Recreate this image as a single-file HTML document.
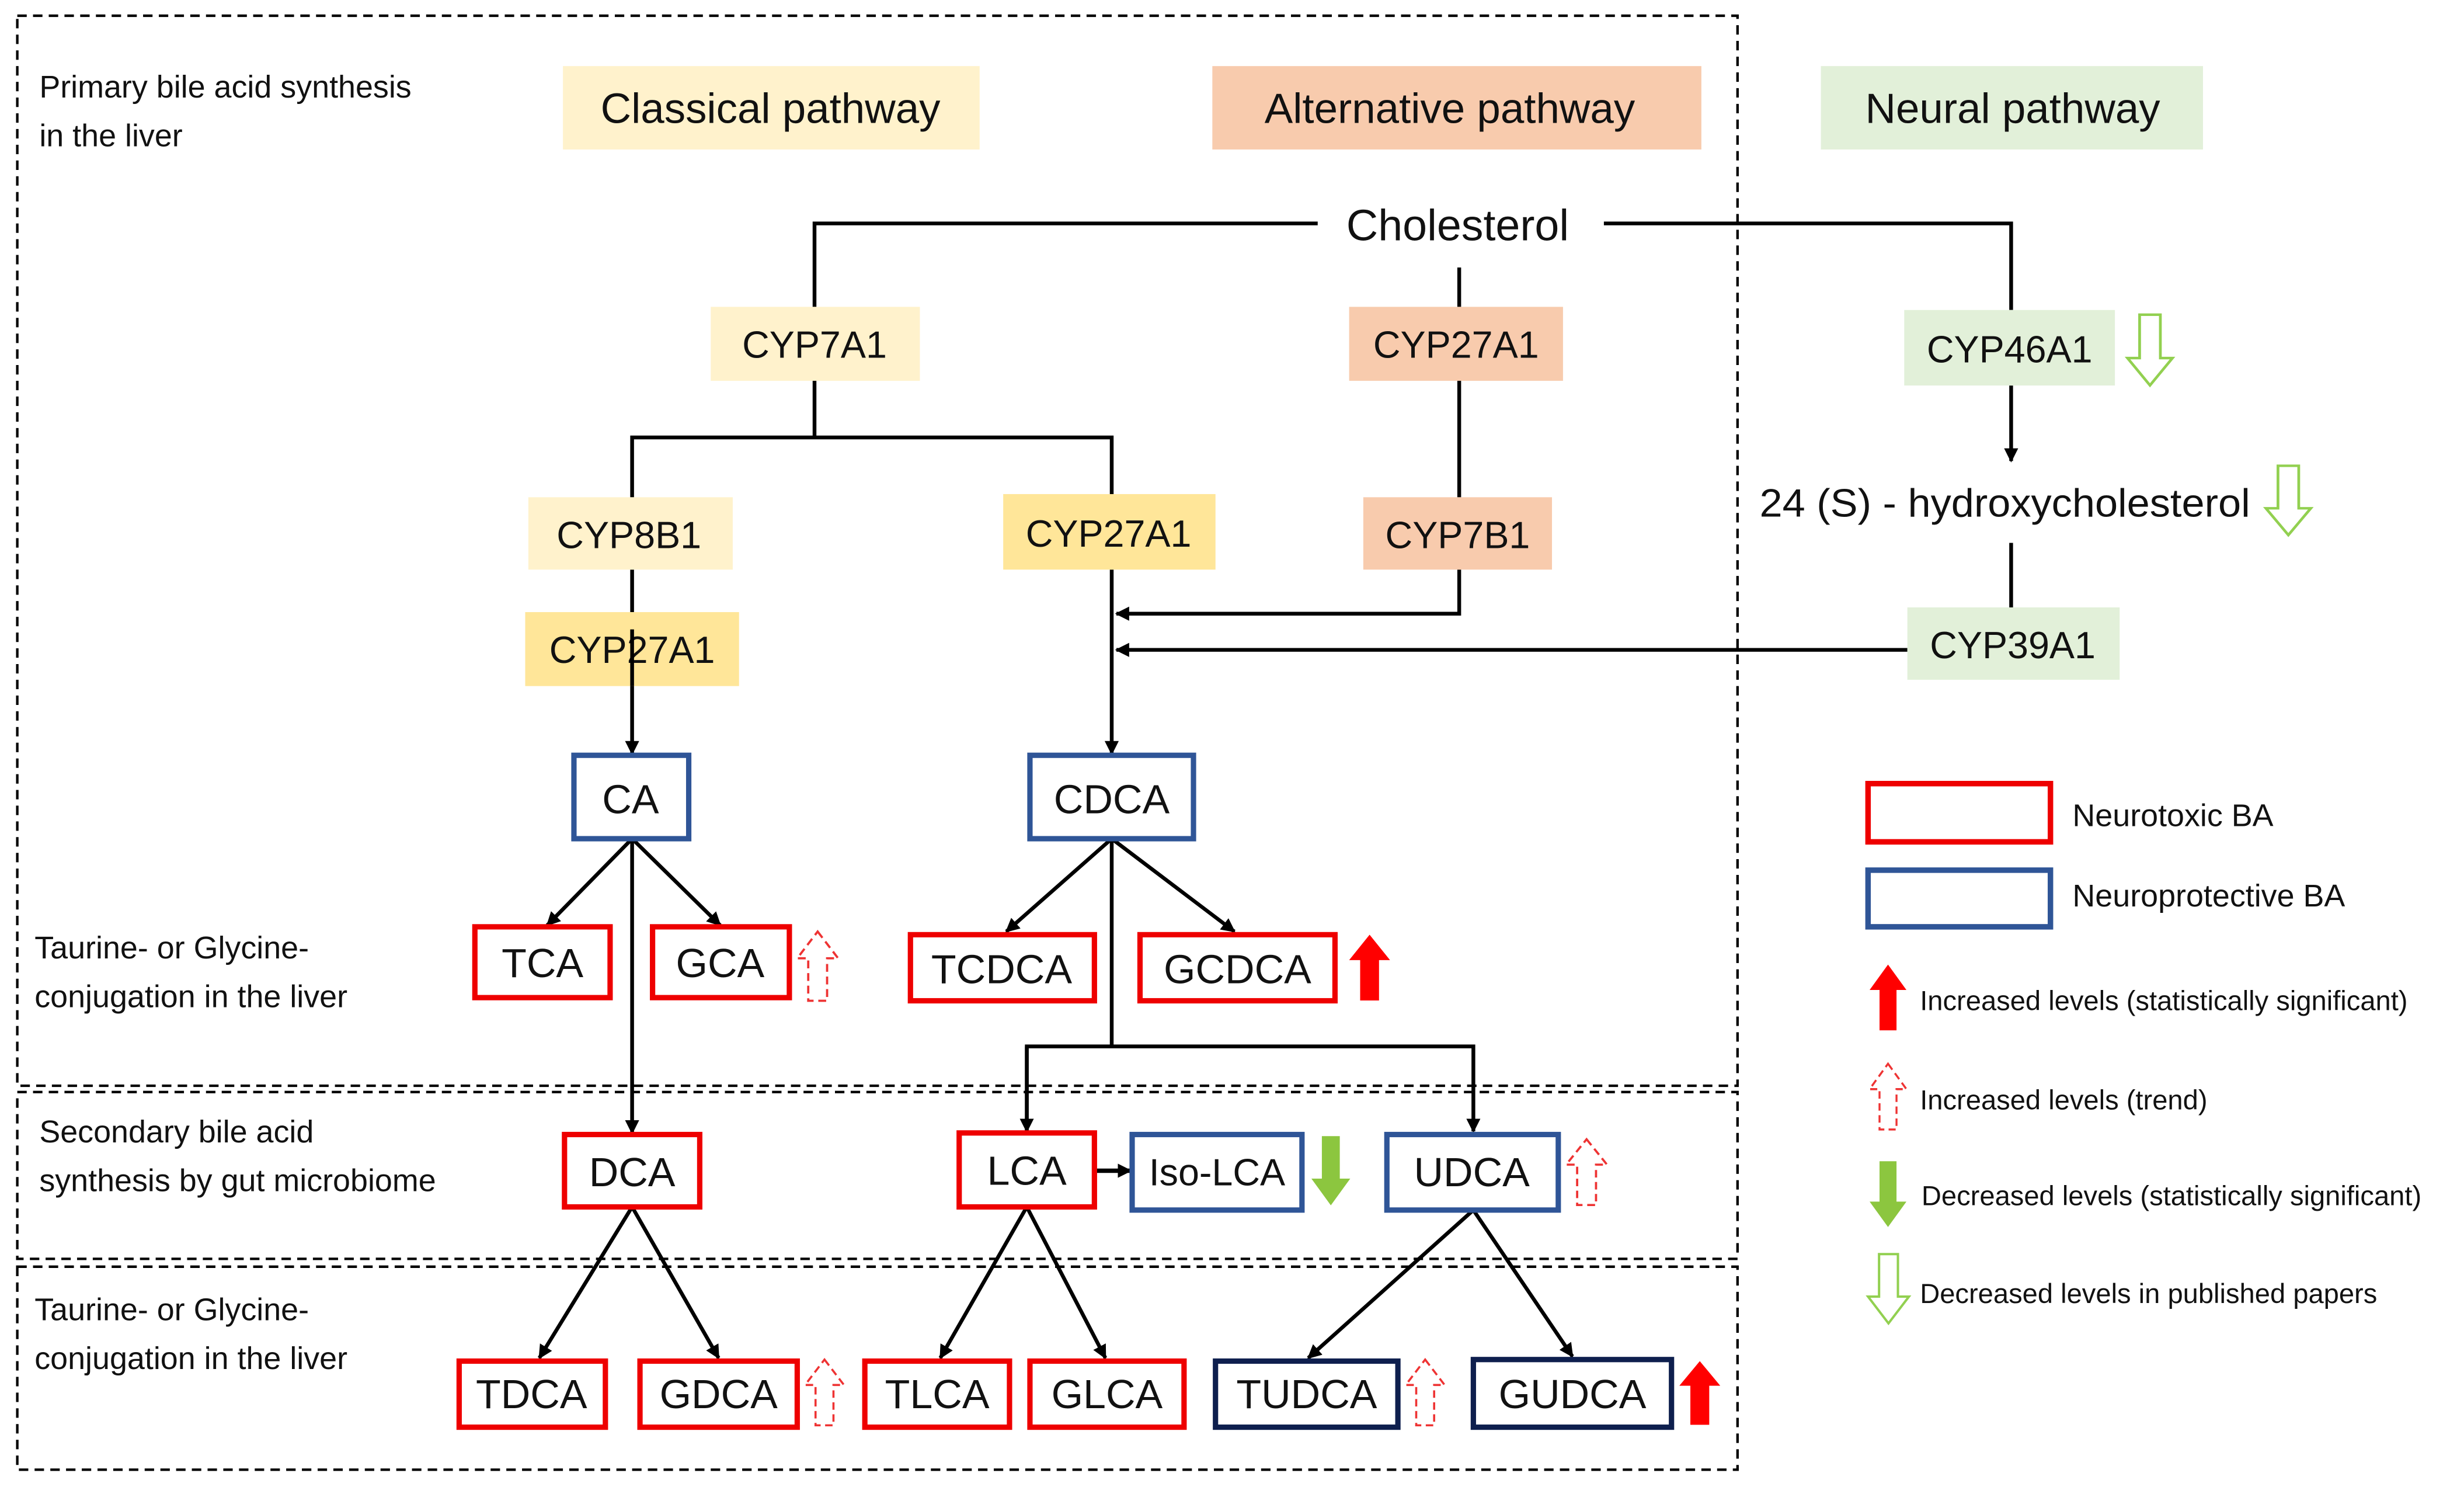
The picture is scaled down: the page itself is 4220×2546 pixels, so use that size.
<!DOCTYPE html>
<html><head><meta charset="utf-8"><style>
html,body{margin:0;padding:0;background:#fff}
svg{display:block}
text{font-family:"Liberation Sans",sans-serif;fill:#111}
.b{font-size:24px;text-anchor:middle;dominant-baseline:central}
.l{font-size:20px}
.lg{font-family:"Liberation Sans",sans-serif;font-size:17.5px}
</style></head><body>
<svg width="4220" height="2546" viewBox="0 0 1567 945" preserveAspectRatio="none" xmlns="http://www.w3.org/2000/svg">
<defs>
<marker id="ah2" viewBox="0 0 10 10" refX="9" refY="5" markerWidth="9" markerHeight="9" orient="auto" markerUnits="userSpaceOnUse"><path d="M0,0 L10,5 L0,10 z" fill="#000"/></marker>
<polygon id="up" points="13,0 26,17 19,17 19,44 7,44 7,17 0,17"/>
<polygon id="dn" points="7,0 19,0 19,27 26,27 13,44 0,27 7,27"/>
</defs>
<rect width="1567" height="945" fill="#fff"/>
<g fill="none" stroke="#000" stroke-width="1.6" stroke-dasharray="6,4">
<rect x="11" y="10" width="1094" height="680"/>
<rect x="11" y="694" width="1094" height="106"/>
<rect x="11" y="805" width="1094" height="129"/>
</g>
<rect x="358" y="42" width="265" height="53" fill="#FFF2CC"/>
<text x="490" y="69" class="b" style="font-size:27px">Classical pathway</text>
<rect x="771" y="42" width="311" height="53" fill="#F8CBAD"/>
<text x="922" y="69" class="b" style="font-size:27px">Alternative pathway</text>
<rect x="1158" y="42" width="243" height="53" fill="#E2F0D9"/>
<text x="1280" y="69" class="b" style="font-size:27px">Neural pathway</text>
<text x="25" y="62" class="l">Primary bile acid synthesis</text>
<text x="25" y="93" class="l">in the liver</text>
<text x="22" y="609" class="l">Taurine- or Glycine-</text>
<text x="22" y="640" class="l">conjugation in the liver</text>
<text x="25" y="726" class="l">Secondary bile acid</text>
<text x="25" y="757" class="l">synthesis by gut microbiome</text>
<text x="22" y="839" class="l">Taurine- or Glycine-</text>
<text x="22" y="870" class="l">conjugation in the liver</text>
<g stroke="#000" stroke-width="2.4" fill="none">
<polyline points="838,142 518,142 518,195"/>
<polyline points="1020,142 1279,142 1279,197"/>
<polyline points="518,242 518,278"/>
<polyline points="402,316 402,278 707,278 707,314"/>
<line x1="402" y1="362" x2="402" y2="389"/>
<line x1="402" y1="400" x2="402" y2="479" marker-end="url(#ah2)"/>
<line x1="707" y1="362" x2="707" y2="479" marker-end="url(#ah2)"/>
<line x1="928" y1="170" x2="928" y2="195"/>
<line x1="928" y1="242" x2="928" y2="316"/>
<polyline points="928,362 928,390 710,390" marker-end="url(#ah2)"/>
<line x1="1213" y1="413" x2="710" y2="413" marker-end="url(#ah2)"/>
<line x1="1279" y1="245" x2="1279" y2="293" marker-end="url(#ah2)"/>
<line x1="1279" y1="345" x2="1279" y2="386"/>
<line x1="402" y1="533" x2="348" y2="588" marker-end="url(#ah2)"/>
<line x1="402" y1="533" x2="458" y2="588" marker-end="url(#ah2)"/>
<line x1="402" y1="533" x2="402" y2="720" marker-end="url(#ah2)"/>
<line x1="707" y1="533" x2="640" y2="592" marker-end="url(#ah2)"/>
<line x1="707" y1="533" x2="785" y2="592" marker-end="url(#ah2)"/>
<line x1="707" y1="533" x2="707" y2="665"/>
<polyline points="653,719 653,665 937,665 937,719" marker-end="url(#ah2)"/>
<line x1="653" y1="665" x2="653" y2="719" marker-end="url(#ah2)"/>
<line x1="697" y1="744" x2="719" y2="744" marker-end="url(#ah2)" stroke-width="2.8"/>
<line x1="402" y1="767" x2="343" y2="863" marker-end="url(#ah2)"/>
<line x1="402" y1="767" x2="457" y2="863" marker-end="url(#ah2)"/>
<line x1="653" y1="767" x2="598" y2="863" marker-end="url(#ah2)"/>
<line x1="653" y1="767" x2="703" y2="863" marker-end="url(#ah2)"/>
<line x1="937" y1="769" x2="832" y2="863" marker-end="url(#ah2)"/>
<line x1="937" y1="769" x2="1000" y2="862" marker-end="url(#ah2)"/>
</g>
<text x="927" y="143" class="b" style="font-size:28px">Cholesterol</text>
<rect x="452" y="195" width="133" height="47" fill="#FFF2CC"/><text x="518" y="219" class="b">CYP7A1</text>
<rect x="336" y="316" width="130" height="46" fill="#FFF2CC"/><text x="400" y="340" class="b">CYP8B1</text>
<rect x="638" y="314" width="135" height="48" fill="#FFE699"/><text x="705" y="339" class="b">CYP27A1</text>
<rect x="334" y="389" width="136" height="47" fill="#FFE699"/><text x="402" y="413" class="b">CYP27A1</text>
<line x1="402" y1="400" x2="402" y2="436" stroke="#000" stroke-width="2.4"/>
<rect x="858" y="195" width="136" height="47" fill="#F8CBAD"/><text x="926" y="219" class="b">CYP27A1</text>
<rect x="867" y="316" width="120" height="46" fill="#F8CBAD"/><text x="927" y="340" class="b">CYP7B1</text>
<rect x="1211" y="197" width="134" height="48" fill="#E2F0D9"/><text x="1278" y="222" class="b">CYP46A1</text>
<rect x="1213" y="386" width="135" height="46" fill="#E2F0D9"/><text x="1280" y="410" class="b">CYP39A1</text>
<text x="1275" y="320" class="b" style="font-size:25px" textLength="312" lengthAdjust="spacingAndGlyphs">24 (S) - hydroxycholesterol</text>
<use href="#dn" transform="translate(1353,200) scale(1.1,1.02)" fill="#fff" stroke="#92D050" stroke-width="1.6"/>
<use href="#dn" transform="translate(1441,296) scale(1.1,1.0)" fill="#fff" stroke="#92D050" stroke-width="1.6"/>
<g fill="#fff" stroke-width="3.4">
<rect x="365" y="480" width="73" height="53" stroke="#2F5597"/>
<rect x="655" y="480" width="104" height="53" stroke="#2F5597"/>
<rect x="302" y="589" width="86" height="45" stroke="#E00"/>
<rect x="415" y="589" width="87" height="45" stroke="#E00"/>
<rect x="579" y="594" width="117" height="42" stroke="#E00"/>
<rect x="725" y="594" width="124" height="42" stroke="#E00"/>
<rect x="359" y="721" width="86" height="46" stroke="#E00"/>
<rect x="610" y="720" width="86" height="47" stroke="#E00"/>
<rect x="720" y="721" width="108" height="48" stroke="#2F5597"/>
<rect x="882" y="721" width="109" height="48" stroke="#2F5597"/>
<rect x="292" y="865" width="93" height="42" stroke="#E00"/>
<rect x="407" y="865" width="100" height="42" stroke="#E00"/>
<rect x="550" y="865" width="92" height="42" stroke="#E00"/>
<rect x="655" y="865" width="98" height="42" stroke="#E00"/>
<rect x="773" y="865" width="116" height="42" stroke="#0E1F4E"/>
<rect x="937" y="864" width="126" height="43" stroke="#0E1F4E"/>
</g>
<g>
<text x="401" y="508" class="b" style="font-size:26px">CA</text>
<text x="707" y="508" class="b" style="font-size:26px">CDCA</text>
<text x="345" y="612" class="b" style="font-size:26px">TCA</text>
<text x="458" y="612" class="b" style="font-size:26px">GCA</text>
<text x="637" y="616" class="b" style="font-size:26px">TCDCA</text>
<text x="787" y="616" class="b" style="font-size:26px">GCDCA</text>
<text x="402" y="745" class="b" style="font-size:26px">DCA</text>
<text x="653" y="744" class="b" style="font-size:26px">LCA</text>
<text x="774" y="745" class="b" style="font-size:24px">Iso-LCA</text>
<text x="936" y="745" class="b" style="font-size:26px">UDCA</text>
<text x="338" y="886" class="b" style="font-size:26px">TDCA</text>
<text x="457" y="886" class="b" style="font-size:26px">GDCA</text>
<text x="596" y="886" class="b" style="font-size:26px">TLCA</text>
<text x="704" y="886" class="b" style="font-size:26px">GLCA</text>
<text x="831" y="886" class="b" style="font-size:26px">TUDCA</text>
<text x="1000" y="886" class="b" style="font-size:26px">GUDCA</text>
</g>
<use href="#up" transform="translate(507,592)" fill="none" stroke="#E33" stroke-width="1.4" stroke-dasharray="5,3"/>
<use href="#up" transform="translate(858,594) scale(1,0.95)" fill="#F00"/>
<use href="#dn" transform="translate(834,722) scale(0.95,1)" fill="#8CC63F"/>
<use href="#up" transform="translate(996,724) scale(1,0.95)" fill="none" stroke="#E33" stroke-width="1.4" stroke-dasharray="5,3"/>
<use href="#up" transform="translate(512,864) scale(0.95,0.95)" fill="none" stroke="#E33" stroke-width="1.4" stroke-dasharray="5,3"/>
<use href="#up" transform="translate(894,864) scale(0.95,0.95)" fill="none" stroke="#E33" stroke-width="1.4" stroke-dasharray="5,3"/>
<use href="#up" transform="translate(1068,865) scale(1,0.92)" fill="#F00"/>
<rect x="1188" y="498" width="116" height="37" fill="#fff" stroke="#E00" stroke-width="3.5"/>
<text x="1318" y="525" class="lg" style="font-size:20px">Neurotoxic BA</text>
<rect x="1188" y="553" width="116" height="36" fill="#fff" stroke="#2F5597" stroke-width="3.5"/>
<text x="1318" y="576" class="lg" style="font-size:20px">Neuroprotective BA</text>
<use href="#up" transform="translate(1189,613) scale(0.9,0.95)" fill="#F00"/>
<text x="1221" y="642" class="lg">Increased levels (statistically significant)</text>
<use href="#up" transform="translate(1189,676) scale(0.9,0.95)" fill="none" stroke="#E33" stroke-width="1.4" stroke-dasharray="5,3"/>
<text x="1221" y="705" class="lg">Increased levels (trend)</text>
<use href="#dn" transform="translate(1189,738) scale(0.9,0.95)" fill="#8CC63F"/>
<text x="1222" y="766" class="lg">Decreased levels (statistically significant)</text>
<use href="#dn" transform="translate(1188,797)" fill="#fff" stroke="#92D050" stroke-width="1.5"/>
<text x="1221" y="828" class="lg">Decreased levels in published papers</text>
</svg>
</body></html>
